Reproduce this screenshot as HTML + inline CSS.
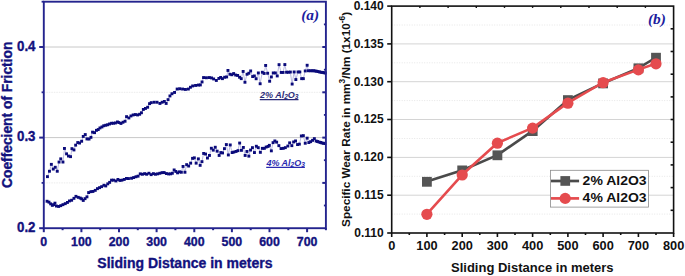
<!DOCTYPE html>
<html><head><meta charset="utf-8"><style>
html,body{margin:0;padding:0;background:#fff;}
body{width:685px;height:276px;overflow:hidden;}
svg{display:block;}
text{font-family:"Liberation Sans",sans-serif;}
</style></head><body>
<svg width="685" height="276" viewBox="0 0 685 276">
<rect width="685" height="276" fill="#fff"/>

<line x1="43.8" y1="47.0" x2="325.9" y2="47.0" stroke="#c8c8c8" stroke-width="1"/>
<line x1="43.8" y1="137.6" x2="325.9" y2="137.6" stroke="#c8c8c8" stroke-width="1"/>
<line x1="43.8" y1="92.3" x2="325.9" y2="92.3" stroke="#ebebeb" stroke-width="1" stroke-dasharray="1.5,1"/>
<line x1="43.8" y1="182.9" x2="325.9" y2="182.9" stroke="#ebebeb" stroke-width="1" stroke-dasharray="1.5,1"/>
<polyline points="47.5,176.6 49.5,171.2 51.4,164.3 53.3,169.0 55.3,167.2 57.2,171.2 59.1,162.0 60.8,158.8 63.0,162.0 64.5,148.4 66.6,153.8 68.5,156.0 70.6,156.7 72.0,148.7 73.9,149.9 75.7,145.1 77.8,142.5 79.6,143.0 81.7,141.2 83.3,136.4 85.2,134.5 87.0,138.9 89.1,139.0 90.9,137.3 92.6,132.1 94.6,132.6 96.5,130.3 98.3,129.5 100.0,128.0 101.9,126.9 103.8,125.8 105.8,125.2 107.7,124.8 109.6,124.0 111.6,123.2 113.5,123.3 115.4,122.9 117.4,122.0 119.0,122.6 120.9,123.4 123.0,122.3 125.1,121.2 126.6,116.7 128.8,117.9 130.9,116.0 133.1,115.0 135.3,114.6 137.5,115.0 139.6,114.3 141.4,112.8 143.3,109.5 145.4,108.5 147.6,107.3 149.5,103.7 151.2,102.7 154.1,102.2 157.0,102.2 159.9,103.5 162.1,102.2 164.3,101.4 166.1,103.5 168.0,99.6 169.9,96.0 171.9,93.8 174.5,92.4 177.1,89.1 179.6,88.8 182.5,89.1 185.4,89.5 188.3,89.1 190.4,87.3 192.6,85.9 195.5,85.4 198.4,85.1 200.3,84.9 202.0,82.0 203.5,77.6 206.4,77.8 209.3,77.6 211.5,78.0 213.7,79.0 216.3,80.4 218.8,78.4 220.7,77.5 222.4,78.7 224.6,77.2 226.7,76.9 227.9,70.4 229.9,74.3 231.8,74.8 233.7,73.6 235.7,75.1 237.6,75.5 239.5,77.2 241.2,78.7 243.1,71.4 244.9,82.3 247.0,74.3 248.8,73.2 250.7,70.9 252.6,76.6 254.3,75.9 256.1,78.8 258.4,73.0 260.1,83.8 262.3,72.2 264.1,73.4 265.7,65.4 267.7,73.3 269.6,81.2 271.4,76.9 273.2,73.0 275.4,73.0 277.2,75.9 279.0,64.7 281.2,72.5 283.0,72.5 284.8,64.6 286.5,72.2 288.4,72.2 290.3,72.1 292.1,84.1 294.1,71.9 295.9,79.6 298.0,71.9 299.9,71.9 301.6,78.7 303.3,78.7 305.2,71.0 307.1,65.2 308.4,70.8 310.3,70.8 312.0,70.8 313.5,70.8 315.0,71.0 316.5,71.3 318.0,71.6 319.5,71.9 321.0,72.2 322.5,72.5 324.0,72.8 325.2,73.0" fill="none" stroke="#9c9cd4" stroke-width="0.7"/>
<polyline points="47.1,201.2 49.0,202.1 50.7,203.8 52.4,205.3 53.6,204.6 55.0,203.1 56.5,206.0 58.7,206.4 60.8,205.6 63.0,204.6 65.2,203.6 67.4,202.4 69.5,200.9 71.7,200.2 73.9,198.3 76.0,196.3 78.2,197.3 80.2,198.0 81.7,198.8 83.2,200.4 85.1,198.7 87.0,196.8 88.7,192.5 90.9,191.7 93.0,191.4 95.2,190.3 97.4,188.6 99.6,187.7 101.7,186.7 103.9,185.2 105.8,185.9 107.8,183.8 109.7,182.3 111.6,180.1 113.6,180.1 115.9,180.9 118.0,179.4 119.9,180.4 122.0,180.1 124.2,179.4 126.4,178.4 128.5,178.5 131.5,178.2 133.7,177.5 135.9,176.8 138.0,176.1 140.2,173.9 142.4,174.2 144.6,173.6 146.7,174.2 148.9,173.2 151.1,174.6 153.3,173.6 155.4,174.2 157.6,173.9 159.8,173.2 162.0,172.7 164.1,172.5 166.3,173.5 168.5,173.9 170.7,173.8 172.3,173.2 174.1,169.9 175.8,171.4 177.5,172.8 179.4,171.8 181.3,172.2 183.0,166.4 184.9,172.2 186.7,164.6 188.6,166.0 190.6,163.1 192.5,158.3 194.3,157.8 196.1,163.1 198.3,158.8 200.1,165.3 201.9,161.7 203.6,153.4 205.5,154.0 207.4,158.0 209.4,155.4 211.3,148.2 213.2,150.1 215.2,147.2 217.1,151.1 219.1,155.4 220.8,152.5 222.5,152.9 224.4,148.6 226.3,144.5 228.3,154.9 230.2,144.9 232.1,152.5 233.8,152.0 236.0,151.4 237.9,150.6 239.6,143.0 241.4,150.3 243.3,147.4 245.1,155.4 246.9,151.4 248.8,156.1 250.5,150.0 252.4,147.7 254.4,152.5 256.3,146.2 258.2,147.7 260.4,152.3 262.4,148.3 264.3,148.3 266.1,147.0 268.0,146.4 269.4,145.3 271.3,150.8 273.0,142.7 274.8,140.9 276.7,142.1 278.8,145.6 281.0,148.5 283.2,148.3 285.4,147.6 287.8,146.0 289.7,142.8 291.9,145.6 293.6,141.9 295.5,140.9 297.5,144.5 299.4,144.1 301.3,135.9 303.3,135.7 305.2,143.2 307.1,138.1 308.8,142.5 310.6,141.7 312.5,140.3 314.3,138.6 316.1,141.0 317.5,141.5 319.0,142.0 320.5,142.4 321.9,142.9 323.4,143.2 324.8,143.5" fill="none" stroke="#9c9cd4" stroke-width="0.7"/>
<g fill="#0a0a7a"><rect x="46.0" y="175.2" width="2.9" height="2.9"/><rect x="48.0" y="169.8" width="2.9" height="2.9"/><rect x="49.9" y="162.9" width="2.9" height="2.9"/><rect x="51.8" y="167.6" width="2.9" height="2.9"/><rect x="53.8" y="165.8" width="2.9" height="2.9"/><rect x="55.8" y="169.8" width="2.9" height="2.9"/><rect x="57.6" y="160.6" width="2.9" height="2.9"/><rect x="59.3" y="157.4" width="2.9" height="2.9"/><rect x="61.5" y="160.6" width="2.9" height="2.9"/><rect x="63.0" y="147.0" width="2.9" height="2.9"/><rect x="65.1" y="152.4" width="2.9" height="2.9"/><rect x="67.0" y="154.6" width="2.9" height="2.9"/><rect x="69.1" y="155.2" width="2.9" height="2.9"/><rect x="70.5" y="147.2" width="2.9" height="2.9"/><rect x="72.5" y="148.5" width="2.9" height="2.9"/><rect x="74.2" y="143.7" width="2.9" height="2.9"/><rect x="76.3" y="141.1" width="2.9" height="2.9"/><rect x="78.1" y="141.6" width="2.9" height="2.9"/><rect x="80.2" y="139.8" width="2.9" height="2.9"/><rect x="81.8" y="135.0" width="2.9" height="2.9"/><rect x="83.8" y="133.1" width="2.9" height="2.9"/><rect x="85.5" y="137.5" width="2.9" height="2.9"/><rect x="87.6" y="137.6" width="2.9" height="2.9"/><rect x="89.5" y="135.9" width="2.9" height="2.9"/><rect x="91.1" y="130.7" width="2.9" height="2.9"/><rect x="93.1" y="131.2" width="2.9" height="2.9"/><rect x="95.0" y="128.9" width="2.9" height="2.9"/><rect x="96.8" y="128.1" width="2.9" height="2.9"/><rect x="98.5" y="126.5" width="2.9" height="2.9"/><rect x="100.5" y="125.5" width="2.9" height="2.9"/><rect x="102.3" y="124.3" width="2.9" height="2.9"/><rect x="104.3" y="123.8" width="2.9" height="2.9"/><rect x="106.2" y="123.3" width="2.9" height="2.9"/><rect x="108.1" y="122.5" width="2.9" height="2.9"/><rect x="110.1" y="121.8" width="2.9" height="2.9"/><rect x="112.0" y="121.8" width="2.9" height="2.9"/><rect x="114.0" y="121.5" width="2.9" height="2.9"/><rect x="116.0" y="120.5" width="2.9" height="2.9"/><rect x="117.5" y="121.1" width="2.9" height="2.9"/><rect x="119.5" y="122.0" width="2.9" height="2.9"/><rect x="121.5" y="120.8" width="2.9" height="2.9"/><rect x="123.6" y="119.8" width="2.9" height="2.9"/><rect x="125.1" y="115.2" width="2.9" height="2.9"/><rect x="127.4" y="116.5" width="2.9" height="2.9"/><rect x="129.5" y="114.5" width="2.9" height="2.9"/><rect x="131.7" y="113.5" width="2.9" height="2.9"/><rect x="133.9" y="113.1" width="2.9" height="2.9"/><rect x="136.1" y="113.5" width="2.9" height="2.9"/><rect x="138.2" y="112.8" width="2.9" height="2.9"/><rect x="140.0" y="111.3" width="2.9" height="2.9"/><rect x="141.9" y="108.0" width="2.9" height="2.9"/><rect x="144.0" y="107.0" width="2.9" height="2.9"/><rect x="146.2" y="105.8" width="2.9" height="2.9"/><rect x="148.1" y="102.2" width="2.9" height="2.9"/><rect x="149.8" y="101.2" width="2.9" height="2.9"/><rect x="152.7" y="100.8" width="2.9" height="2.9"/><rect x="155.6" y="100.8" width="2.9" height="2.9"/><rect x="158.5" y="102.0" width="2.9" height="2.9"/><rect x="160.7" y="100.8" width="2.9" height="2.9"/><rect x="162.9" y="100.0" width="2.9" height="2.9"/><rect x="164.7" y="102.0" width="2.9" height="2.9"/><rect x="166.6" y="98.2" width="2.9" height="2.9"/><rect x="168.5" y="94.5" width="2.9" height="2.9"/><rect x="170.5" y="92.3" width="2.9" height="2.9"/><rect x="173.1" y="91.0" width="2.9" height="2.9"/><rect x="175.7" y="87.6" width="2.9" height="2.9"/><rect x="178.2" y="87.3" width="2.9" height="2.9"/><rect x="181.1" y="87.6" width="2.9" height="2.9"/><rect x="184.0" y="88.0" width="2.9" height="2.9"/><rect x="186.9" y="87.6" width="2.9" height="2.9"/><rect x="189.0" y="85.8" width="2.9" height="2.9"/><rect x="191.2" y="84.5" width="2.9" height="2.9"/><rect x="194.1" y="84.0" width="2.9" height="2.9"/><rect x="197.0" y="83.6" width="2.9" height="2.9"/><rect x="198.9" y="83.5" width="2.9" height="2.9"/><rect x="200.6" y="80.5" width="2.9" height="2.9"/><rect x="202.1" y="76.1" width="2.9" height="2.9"/><rect x="205.0" y="76.3" width="2.9" height="2.9"/><rect x="207.9" y="76.1" width="2.9" height="2.9"/><rect x="210.1" y="76.5" width="2.9" height="2.9"/><rect x="212.2" y="77.5" width="2.9" height="2.9"/><rect x="214.9" y="79.0" width="2.9" height="2.9"/><rect x="217.4" y="77.0" width="2.9" height="2.9"/><rect x="219.2" y="76.0" width="2.9" height="2.9"/><rect x="221.0" y="77.2" width="2.9" height="2.9"/><rect x="223.2" y="75.8" width="2.9" height="2.9"/><rect x="225.2" y="75.5" width="2.9" height="2.9"/><rect x="226.5" y="69.0" width="2.9" height="2.9"/><rect x="228.5" y="72.8" width="2.9" height="2.9"/><rect x="230.4" y="73.3" width="2.9" height="2.9"/><rect x="232.2" y="72.1" width="2.9" height="2.9"/><rect x="234.2" y="73.6" width="2.9" height="2.9"/><rect x="236.2" y="74.0" width="2.9" height="2.9"/><rect x="238.1" y="75.8" width="2.9" height="2.9"/><rect x="239.8" y="77.2" width="2.9" height="2.9"/><rect x="241.7" y="70.0" width="2.9" height="2.9"/><rect x="243.5" y="80.8" width="2.9" height="2.9"/><rect x="245.6" y="72.8" width="2.9" height="2.9"/><rect x="247.4" y="71.8" width="2.9" height="2.9"/><rect x="249.2" y="69.5" width="2.9" height="2.9"/><rect x="251.2" y="75.1" width="2.9" height="2.9"/><rect x="252.9" y="74.5" width="2.9" height="2.9"/><rect x="254.7" y="77.3" width="2.9" height="2.9"/><rect x="256.9" y="71.5" width="2.9" height="2.9"/><rect x="258.7" y="82.3" width="2.9" height="2.9"/><rect x="260.9" y="70.8" width="2.9" height="2.9"/><rect x="262.7" y="72.0" width="2.9" height="2.9"/><rect x="264.2" y="64.0" width="2.9" height="2.9"/><rect x="266.2" y="71.8" width="2.9" height="2.9"/><rect x="268.2" y="79.8" width="2.9" height="2.9"/><rect x="269.9" y="75.5" width="2.9" height="2.9"/><rect x="271.8" y="71.5" width="2.9" height="2.9"/><rect x="273.9" y="71.5" width="2.9" height="2.9"/><rect x="275.8" y="74.5" width="2.9" height="2.9"/><rect x="277.6" y="63.2" width="2.9" height="2.9"/><rect x="279.8" y="71.0" width="2.9" height="2.9"/><rect x="281.6" y="71.0" width="2.9" height="2.9"/><rect x="283.4" y="63.1" width="2.9" height="2.9"/><rect x="285.1" y="70.8" width="2.9" height="2.9"/><rect x="286.9" y="70.8" width="2.9" height="2.9"/><rect x="288.9" y="70.6" width="2.9" height="2.9"/><rect x="290.7" y="82.6" width="2.9" height="2.9"/><rect x="292.7" y="70.5" width="2.9" height="2.9"/><rect x="294.4" y="78.1" width="2.9" height="2.9"/><rect x="296.6" y="70.5" width="2.9" height="2.9"/><rect x="298.4" y="70.5" width="2.9" height="2.9"/><rect x="300.2" y="77.2" width="2.9" height="2.9"/><rect x="301.9" y="77.2" width="2.9" height="2.9"/><rect x="303.8" y="69.5" width="2.9" height="2.9"/><rect x="305.7" y="63.8" width="2.9" height="2.9"/><rect x="306.9" y="69.3" width="2.9" height="2.9"/><rect x="308.9" y="69.3" width="2.9" height="2.9"/><rect x="310.6" y="69.3" width="2.9" height="2.9"/><rect x="312.1" y="69.3" width="2.9" height="2.9"/><rect x="313.6" y="69.5" width="2.9" height="2.9"/><rect x="315.1" y="69.8" width="2.9" height="2.9"/><rect x="316.6" y="70.1" width="2.9" height="2.9"/><rect x="318.1" y="70.5" width="2.9" height="2.9"/><rect x="319.6" y="70.8" width="2.9" height="2.9"/><rect x="321.1" y="71.0" width="2.9" height="2.9"/><rect x="322.6" y="71.3" width="2.9" height="2.9"/><rect x="323.8" y="71.5" width="2.9" height="2.9"/><rect x="45.6" y="199.8" width="2.9" height="2.9"/><rect x="47.5" y="200.7" width="2.9" height="2.9"/><rect x="49.2" y="202.4" width="2.9" height="2.9"/><rect x="50.9" y="203.9" width="2.9" height="2.9"/><rect x="52.1" y="203.2" width="2.9" height="2.9"/><rect x="53.5" y="201.7" width="2.9" height="2.9"/><rect x="55.0" y="204.6" width="2.9" height="2.9"/><rect x="57.2" y="205.0" width="2.9" height="2.9"/><rect x="59.3" y="204.2" width="2.9" height="2.9"/><rect x="61.5" y="203.2" width="2.9" height="2.9"/><rect x="63.8" y="202.2" width="2.9" height="2.9"/><rect x="66.0" y="201.0" width="2.9" height="2.9"/><rect x="68.0" y="199.5" width="2.9" height="2.9"/><rect x="70.2" y="198.8" width="2.9" height="2.9"/><rect x="72.5" y="196.9" width="2.9" height="2.9"/><rect x="74.5" y="194.9" width="2.9" height="2.9"/><rect x="76.8" y="195.9" width="2.9" height="2.9"/><rect x="78.8" y="196.6" width="2.9" height="2.9"/><rect x="80.2" y="197.4" width="2.9" height="2.9"/><rect x="81.8" y="199.0" width="2.9" height="2.9"/><rect x="83.6" y="197.2" width="2.9" height="2.9"/><rect x="85.5" y="195.4" width="2.9" height="2.9"/><rect x="87.2" y="191.1" width="2.9" height="2.9"/><rect x="89.5" y="190.2" width="2.9" height="2.9"/><rect x="91.5" y="190.0" width="2.9" height="2.9"/><rect x="93.8" y="188.9" width="2.9" height="2.9"/><rect x="96.0" y="187.2" width="2.9" height="2.9"/><rect x="98.1" y="186.2" width="2.9" height="2.9"/><rect x="100.2" y="185.2" width="2.9" height="2.9"/><rect x="102.5" y="183.8" width="2.9" height="2.9"/><rect x="104.3" y="184.5" width="2.9" height="2.9"/><rect x="106.3" y="182.4" width="2.9" height="2.9"/><rect x="108.2" y="180.9" width="2.9" height="2.9"/><rect x="110.1" y="178.7" width="2.9" height="2.9"/><rect x="112.1" y="178.7" width="2.9" height="2.9"/><rect x="114.5" y="179.5" width="2.9" height="2.9"/><rect x="116.5" y="178.0" width="2.9" height="2.9"/><rect x="118.5" y="179.0" width="2.9" height="2.9"/><rect x="120.5" y="178.7" width="2.9" height="2.9"/><rect x="122.8" y="178.0" width="2.9" height="2.9"/><rect x="125.0" y="177.0" width="2.9" height="2.9"/><rect x="127.0" y="177.1" width="2.9" height="2.9"/><rect x="130.1" y="176.8" width="2.9" height="2.9"/><rect x="132.2" y="176.1" width="2.9" height="2.9"/><rect x="134.5" y="175.3" width="2.9" height="2.9"/><rect x="136.6" y="174.7" width="2.9" height="2.9"/><rect x="138.8" y="172.4" width="2.9" height="2.9"/><rect x="141.0" y="172.8" width="2.9" height="2.9"/><rect x="143.2" y="172.2" width="2.9" height="2.9"/><rect x="145.2" y="172.8" width="2.9" height="2.9"/><rect x="147.5" y="171.8" width="2.9" height="2.9"/><rect x="149.7" y="173.2" width="2.9" height="2.9"/><rect x="151.9" y="172.2" width="2.9" height="2.9"/><rect x="154.0" y="172.8" width="2.9" height="2.9"/><rect x="156.2" y="172.4" width="2.9" height="2.9"/><rect x="158.4" y="171.8" width="2.9" height="2.9"/><rect x="160.6" y="171.2" width="2.9" height="2.9"/><rect x="162.7" y="171.1" width="2.9" height="2.9"/><rect x="164.9" y="172.1" width="2.9" height="2.9"/><rect x="167.1" y="172.5" width="2.9" height="2.9"/><rect x="169.2" y="172.4" width="2.9" height="2.9"/><rect x="170.9" y="171.8" width="2.9" height="2.9"/><rect x="172.7" y="168.5" width="2.9" height="2.9"/><rect x="174.4" y="170.0" width="2.9" height="2.9"/><rect x="176.1" y="171.4" width="2.9" height="2.9"/><rect x="178.0" y="170.4" width="2.9" height="2.9"/><rect x="179.9" y="170.8" width="2.9" height="2.9"/><rect x="181.6" y="165.0" width="2.9" height="2.9"/><rect x="183.5" y="170.8" width="2.9" height="2.9"/><rect x="185.2" y="163.2" width="2.9" height="2.9"/><rect x="187.2" y="164.6" width="2.9" height="2.9"/><rect x="189.2" y="161.7" width="2.9" height="2.9"/><rect x="191.1" y="156.9" width="2.9" height="2.9"/><rect x="192.9" y="156.4" width="2.9" height="2.9"/><rect x="194.7" y="161.7" width="2.9" height="2.9"/><rect x="196.9" y="157.4" width="2.9" height="2.9"/><rect x="198.7" y="163.9" width="2.9" height="2.9"/><rect x="200.5" y="160.2" width="2.9" height="2.9"/><rect x="202.2" y="152.0" width="2.9" height="2.9"/><rect x="204.1" y="152.6" width="2.9" height="2.9"/><rect x="206.0" y="156.6" width="2.9" height="2.9"/><rect x="208.0" y="154.0" width="2.9" height="2.9"/><rect x="209.9" y="146.8" width="2.9" height="2.9"/><rect x="211.8" y="148.7" width="2.9" height="2.9"/><rect x="213.8" y="145.8" width="2.9" height="2.9"/><rect x="215.7" y="149.7" width="2.9" height="2.9"/><rect x="217.7" y="154.0" width="2.9" height="2.9"/><rect x="219.4" y="151.1" width="2.9" height="2.9"/><rect x="221.1" y="151.5" width="2.9" height="2.9"/><rect x="223.0" y="147.2" width="2.9" height="2.9"/><rect x="224.9" y="143.1" width="2.9" height="2.9"/><rect x="226.9" y="153.5" width="2.9" height="2.9"/><rect x="228.8" y="143.5" width="2.9" height="2.9"/><rect x="230.7" y="151.1" width="2.9" height="2.9"/><rect x="232.4" y="150.6" width="2.9" height="2.9"/><rect x="234.6" y="150.0" width="2.9" height="2.9"/><rect x="236.5" y="149.2" width="2.9" height="2.9"/><rect x="238.2" y="141.6" width="2.9" height="2.9"/><rect x="240.0" y="148.9" width="2.9" height="2.9"/><rect x="241.9" y="146.0" width="2.9" height="2.9"/><rect x="243.7" y="154.0" width="2.9" height="2.9"/><rect x="245.5" y="150.0" width="2.9" height="2.9"/><rect x="247.4" y="154.7" width="2.9" height="2.9"/><rect x="249.1" y="148.6" width="2.9" height="2.9"/><rect x="251.0" y="146.2" width="2.9" height="2.9"/><rect x="253.0" y="151.1" width="2.9" height="2.9"/><rect x="254.9" y="144.8" width="2.9" height="2.9"/><rect x="256.8" y="146.2" width="2.9" height="2.9"/><rect x="258.9" y="150.9" width="2.9" height="2.9"/><rect x="260.9" y="146.9" width="2.9" height="2.9"/><rect x="262.9" y="146.9" width="2.9" height="2.9"/><rect x="264.7" y="145.6" width="2.9" height="2.9"/><rect x="266.6" y="145.0" width="2.9" height="2.9"/><rect x="267.9" y="143.9" width="2.9" height="2.9"/><rect x="269.9" y="149.4" width="2.9" height="2.9"/><rect x="271.6" y="141.2" width="2.9" height="2.9"/><rect x="273.4" y="139.5" width="2.9" height="2.9"/><rect x="275.2" y="140.7" width="2.9" height="2.9"/><rect x="277.4" y="144.2" width="2.9" height="2.9"/><rect x="279.6" y="147.1" width="2.9" height="2.9"/><rect x="281.8" y="146.9" width="2.9" height="2.9"/><rect x="283.9" y="146.2" width="2.9" height="2.9"/><rect x="286.4" y="144.6" width="2.9" height="2.9"/><rect x="288.2" y="141.4" width="2.9" height="2.9"/><rect x="290.4" y="144.2" width="2.9" height="2.9"/><rect x="292.2" y="140.5" width="2.9" height="2.9"/><rect x="294.1" y="139.5" width="2.9" height="2.9"/><rect x="296.1" y="143.1" width="2.9" height="2.9"/><rect x="297.9" y="142.7" width="2.9" height="2.9"/><rect x="299.9" y="134.5" width="2.9" height="2.9"/><rect x="301.9" y="134.2" width="2.9" height="2.9"/><rect x="303.8" y="141.8" width="2.9" height="2.9"/><rect x="305.7" y="136.7" width="2.9" height="2.9"/><rect x="307.4" y="141.1" width="2.9" height="2.9"/><rect x="309.2" y="140.2" width="2.9" height="2.9"/><rect x="311.1" y="138.9" width="2.9" height="2.9"/><rect x="312.9" y="137.2" width="2.9" height="2.9"/><rect x="314.7" y="139.6" width="2.9" height="2.9"/><rect x="316.1" y="140.1" width="2.9" height="2.9"/><rect x="317.6" y="140.6" width="2.9" height="2.9"/><rect x="319.1" y="141.0" width="2.9" height="2.9"/><rect x="320.4" y="141.5" width="2.9" height="2.9"/><rect x="321.9" y="141.8" width="2.9" height="2.9"/><rect x="323.4" y="142.1" width="2.9" height="2.9"/></g>
<rect x="43.8" y="1.7" width="282.1" height="226.5" fill="none" stroke="#24248e" stroke-width="1.9"/>
<line x1="39.2" y1="228.2" x2="43.8" y2="228.2" stroke="#24248e" stroke-width="2"/>
<line x1="39.2" y1="137.6" x2="43.8" y2="137.6" stroke="#24248e" stroke-width="2"/>
<line x1="39.2" y1="47.0" x2="43.8" y2="47.0" stroke="#24248e" stroke-width="2"/>
<line x1="41.6" y1="182.9" x2="43.8" y2="182.9" stroke="#24248e" stroke-width="1.8"/>
<line x1="41.6" y1="92.3" x2="43.8" y2="92.3" stroke="#24248e" stroke-width="1.8"/>
<line x1="41.6" y1="1.7" x2="43.8" y2="1.7" stroke="#24248e" stroke-width="1.8"/>
<line x1="322.3" y1="182.9" x2="325.9" y2="182.9" stroke="#24248e" stroke-width="2"/>
<line x1="322.3" y1="137.6" x2="325.9" y2="137.6" stroke="#24248e" stroke-width="2"/>
<line x1="322.3" y1="92.3" x2="325.9" y2="92.3" stroke="#24248e" stroke-width="2"/>
<line x1="322.3" y1="47.0" x2="325.9" y2="47.0" stroke="#24248e" stroke-width="2"/>
<line x1="323.9" y1="24.4" x2="325.9" y2="24.4" stroke="#24248e" stroke-width="1.8"/>
<line x1="323.9" y1="69.7" x2="325.9" y2="69.7" stroke="#24248e" stroke-width="1.8"/>
<line x1="323.9" y1="114.9" x2="325.9" y2="114.9" stroke="#24248e" stroke-width="1.8"/>
<line x1="323.9" y1="160.2" x2="325.9" y2="160.2" stroke="#24248e" stroke-width="1.8"/>
<line x1="323.9" y1="205.5" x2="325.9" y2="205.5" stroke="#24248e" stroke-width="1.8"/>
<line x1="43.8" y1="228.2" x2="43.8" y2="232.2" stroke="#24248e" stroke-width="2"/>
<line x1="62.6" y1="228.2" x2="62.6" y2="230.2" stroke="#24248e" stroke-width="2"/>
<line x1="81.4" y1="228.2" x2="81.4" y2="232.2" stroke="#24248e" stroke-width="2"/>
<line x1="100.2" y1="228.2" x2="100.2" y2="230.2" stroke="#24248e" stroke-width="2"/>
<line x1="119.0" y1="228.2" x2="119.0" y2="232.2" stroke="#24248e" stroke-width="2"/>
<line x1="137.8" y1="228.2" x2="137.8" y2="230.2" stroke="#24248e" stroke-width="2"/>
<line x1="156.6" y1="228.2" x2="156.6" y2="232.2" stroke="#24248e" stroke-width="2"/>
<line x1="175.4" y1="228.2" x2="175.4" y2="230.2" stroke="#24248e" stroke-width="2"/>
<line x1="194.3" y1="228.2" x2="194.3" y2="232.2" stroke="#24248e" stroke-width="2"/>
<line x1="213.1" y1="228.2" x2="213.1" y2="230.2" stroke="#24248e" stroke-width="2"/>
<line x1="231.9" y1="228.2" x2="231.9" y2="232.2" stroke="#24248e" stroke-width="2"/>
<line x1="250.7" y1="228.2" x2="250.7" y2="230.2" stroke="#24248e" stroke-width="2"/>
<line x1="269.5" y1="228.2" x2="269.5" y2="232.2" stroke="#24248e" stroke-width="2"/>
<line x1="288.3" y1="228.2" x2="288.3" y2="230.2" stroke="#24248e" stroke-width="2"/>
<line x1="307.1" y1="228.2" x2="307.1" y2="232.2" stroke="#24248e" stroke-width="2"/>
<line x1="325.9" y1="228.2" x2="325.9" y2="230.2" stroke="#24248e" stroke-width="2"/>
<text transform="translate(43.80,245.80) scale(1.000,1.080)" font-size="12.4" font-weight="bold" font-style="normal" fill="#12127e" text-anchor="middle" style="font-family:'Liberation Sans',sans-serif" stroke="#12127e" stroke-width="0.35" stroke-linejoin="round">0</text>
<text transform="translate(81.41,245.80) scale(1.000,1.080)" font-size="12.4" font-weight="bold" font-style="normal" fill="#12127e" text-anchor="middle" style="font-family:'Liberation Sans',sans-serif" stroke="#12127e" stroke-width="0.35" stroke-linejoin="round">100</text>
<text transform="translate(119.03,245.80) scale(1.000,1.080)" font-size="12.4" font-weight="bold" font-style="normal" fill="#12127e" text-anchor="middle" style="font-family:'Liberation Sans',sans-serif" stroke="#12127e" stroke-width="0.35" stroke-linejoin="round">200</text>
<text transform="translate(156.64,245.80) scale(1.000,1.080)" font-size="12.4" font-weight="bold" font-style="normal" fill="#12127e" text-anchor="middle" style="font-family:'Liberation Sans',sans-serif" stroke="#12127e" stroke-width="0.35" stroke-linejoin="round">300</text>
<text transform="translate(194.25,245.80) scale(1.000,1.080)" font-size="12.4" font-weight="bold" font-style="normal" fill="#12127e" text-anchor="middle" style="font-family:'Liberation Sans',sans-serif" stroke="#12127e" stroke-width="0.35" stroke-linejoin="round">400</text>
<text transform="translate(231.87,245.80) scale(1.000,1.080)" font-size="12.4" font-weight="bold" font-style="normal" fill="#12127e" text-anchor="middle" style="font-family:'Liberation Sans',sans-serif" stroke="#12127e" stroke-width="0.35" stroke-linejoin="round">500</text>
<text transform="translate(269.48,245.80) scale(1.000,1.080)" font-size="12.4" font-weight="bold" font-style="normal" fill="#12127e" text-anchor="middle" style="font-family:'Liberation Sans',sans-serif" stroke="#12127e" stroke-width="0.35" stroke-linejoin="round">600</text>
<text transform="translate(307.09,245.80) scale(1.000,1.080)" font-size="12.4" font-weight="bold" font-style="normal" fill="#12127e" text-anchor="middle" style="font-family:'Liberation Sans',sans-serif" stroke="#12127e" stroke-width="0.35" stroke-linejoin="round">700</text>
<text transform="translate(35.50,50.80) scale(1.000,1.040)" font-size="13.3" font-weight="bold" font-style="normal" fill="#12127e" text-anchor="end" style="font-family:'Liberation Sans',sans-serif" stroke="#12127e" stroke-width="0.35" stroke-linejoin="round">0.4</text>
<text transform="translate(35.50,141.40) scale(1.000,1.040)" font-size="13.3" font-weight="bold" font-style="normal" fill="#12127e" text-anchor="end" style="font-family:'Liberation Sans',sans-serif" stroke="#12127e" stroke-width="0.35" stroke-linejoin="round">0.3</text>
<text transform="translate(35.50,232.00) scale(1.000,1.040)" font-size="13.3" font-weight="bold" font-style="normal" fill="#12127e" text-anchor="end" style="font-family:'Liberation Sans',sans-serif" stroke="#12127e" stroke-width="0.35" stroke-linejoin="round">0.2</text>
<text transform="translate(184.90,268.20)" font-size="14.0" font-weight="bold" font-style="normal" fill="#12127e" text-anchor="middle" style="font-family:'Liberation Sans',sans-serif" stroke="#12127e" stroke-width="0.35" stroke-linejoin="round">Sliding Distance in meters</text>
<text transform="translate(11.60,114.80) rotate(-90)" font-size="13.8" font-weight="bold" font-style="normal" fill="#12127e" text-anchor="middle" style="font-family:'Liberation Sans',sans-serif" stroke="#12127e" stroke-width="0.35" stroke-linejoin="round">Coeffecient of Friction</text>
<text transform="translate(319.10,20.30)" font-size="15.4" font-weight="bold" font-style="italic" fill="#1c1c9e" text-anchor="end" style="font-family:'Liberation Serif',serif">(a)</text>
<text transform="translate(260.00,97.70) scale(1.000,1.070)" font-size="9.0" font-weight="bold" font-style="italic" fill="#2b2b78" text-anchor="start" style="font-family:'Liberation Sans',sans-serif">2% Al<tspan font-size="6.6" dy="1.5">2</tspan><tspan dy="-1.5">O</tspan><tspan font-size="6.6" dy="1.5">3</tspan></text>
<line x1="259.8" y1="99.6" x2="298.5" y2="99.6" stroke="#2b2b78" stroke-width="1.1"/>
<text transform="translate(266.40,165.60) scale(1.000,1.100)" font-size="9.0" font-weight="bold" font-style="italic" fill="#2a2ab0" text-anchor="start" style="font-family:'Liberation Sans',sans-serif">4% Al<tspan font-size="6.6" dy="1.5">2</tspan><tspan dy="-1.5">O</tspan><tspan font-size="6.6" dy="1.5">3</tspan></text>
<line x1="266.2" y1="167.4" x2="304.9" y2="167.4" stroke="#2a2ab0" stroke-width="1.1"/>
<line x1="391.7" y1="214.1" x2="673.6" y2="214.1" stroke="#e6e6e6" stroke-width="1" stroke-dasharray="1,1.5"/>
<line x1="391.7" y1="195.2" x2="673.6" y2="195.2" stroke="#d4d4d4" stroke-width="1"/>
<line x1="391.7" y1="176.3" x2="673.6" y2="176.3" stroke="#e6e6e6" stroke-width="1" stroke-dasharray="1,1.5"/>
<line x1="391.7" y1="157.4" x2="673.6" y2="157.4" stroke="#d4d4d4" stroke-width="1"/>
<line x1="391.7" y1="138.5" x2="673.6" y2="138.5" stroke="#e6e6e6" stroke-width="1" stroke-dasharray="1,1.5"/>
<line x1="391.7" y1="119.5" x2="673.6" y2="119.5" stroke="#d4d4d4" stroke-width="1"/>
<line x1="391.7" y1="100.6" x2="673.6" y2="100.6" stroke="#e6e6e6" stroke-width="1" stroke-dasharray="1,1.5"/>
<line x1="391.7" y1="81.7" x2="673.6" y2="81.7" stroke="#d4d4d4" stroke-width="1"/>
<line x1="391.7" y1="62.8" x2="673.6" y2="62.8" stroke="#e6e6e6" stroke-width="1" stroke-dasharray="1,1.5"/>
<line x1="391.7" y1="43.9" x2="673.6" y2="43.9" stroke="#d4d4d4" stroke-width="1"/>
<line x1="391.7" y1="25.0" x2="673.6" y2="25.0" stroke="#e6e6e6" stroke-width="1" stroke-dasharray="1,1.5"/>
<rect x="391.7" y="6.1" width="281.9" height="226.9" fill="none" stroke="#111" stroke-width="1.6"/>
<line x1="387.2" y1="233.0" x2="391.7" y2="233.0" stroke="#111" stroke-width="1.6"/>
<text transform="translate(383.70,236.80) scale(1.000,1.130)" font-size="12.0" font-weight="bold" font-style="normal" fill="#111" text-anchor="end" style="font-family:'Liberation Sans',sans-serif">0.110</text>
<line x1="387.2" y1="195.2" x2="391.7" y2="195.2" stroke="#111" stroke-width="1.6"/>
<text transform="translate(383.70,198.98) scale(1.000,1.130)" font-size="12.0" font-weight="bold" font-style="normal" fill="#111" text-anchor="end" style="font-family:'Liberation Sans',sans-serif">0.115</text>
<line x1="387.2" y1="157.4" x2="391.7" y2="157.4" stroke="#111" stroke-width="1.6"/>
<text transform="translate(383.70,161.17) scale(1.000,1.130)" font-size="12.0" font-weight="bold" font-style="normal" fill="#111" text-anchor="end" style="font-family:'Liberation Sans',sans-serif">0.120</text>
<line x1="387.2" y1="119.5" x2="391.7" y2="119.5" stroke="#111" stroke-width="1.6"/>
<text transform="translate(383.70,123.35) scale(1.000,1.130)" font-size="12.0" font-weight="bold" font-style="normal" fill="#111" text-anchor="end" style="font-family:'Liberation Sans',sans-serif">0.125</text>
<line x1="387.2" y1="81.7" x2="391.7" y2="81.7" stroke="#111" stroke-width="1.6"/>
<text transform="translate(383.70,85.53) scale(1.000,1.130)" font-size="12.0" font-weight="bold" font-style="normal" fill="#111" text-anchor="end" style="font-family:'Liberation Sans',sans-serif">0.130</text>
<line x1="387.2" y1="43.9" x2="391.7" y2="43.9" stroke="#111" stroke-width="1.6"/>
<text transform="translate(383.70,47.72) scale(1.000,1.130)" font-size="12.0" font-weight="bold" font-style="normal" fill="#111" text-anchor="end" style="font-family:'Liberation Sans',sans-serif">0.135</text>
<line x1="387.2" y1="6.1" x2="391.7" y2="6.1" stroke="#111" stroke-width="1.6"/>
<text transform="translate(383.70,9.90) scale(1.000,1.130)" font-size="12.0" font-weight="bold" font-style="normal" fill="#111" text-anchor="end" style="font-family:'Liberation Sans',sans-serif">0.140</text>
<line x1="670.6" y1="28.8" x2="673.6" y2="28.8" stroke="#111" stroke-width="1.6"/>
<line x1="670.6" y1="51.5" x2="673.6" y2="51.5" stroke="#111" stroke-width="1.6"/>
<line x1="670.6" y1="74.2" x2="673.6" y2="74.2" stroke="#111" stroke-width="1.6"/>
<line x1="670.6" y1="96.9" x2="673.6" y2="96.9" stroke="#111" stroke-width="1.6"/>
<line x1="670.6" y1="119.5" x2="673.6" y2="119.5" stroke="#111" stroke-width="1.6"/>
<line x1="670.6" y1="142.2" x2="673.6" y2="142.2" stroke="#111" stroke-width="1.6"/>
<line x1="670.6" y1="164.9" x2="673.6" y2="164.9" stroke="#111" stroke-width="1.6"/>
<line x1="670.6" y1="187.6" x2="673.6" y2="187.6" stroke="#111" stroke-width="1.6"/>
<line x1="670.6" y1="210.3" x2="673.6" y2="210.3" stroke="#111" stroke-width="1.6"/>
<line x1="419.9" y1="6.1" x2="419.9" y2="7.9" stroke="#111" stroke-width="1.4"/>
<line x1="448.1" y1="6.1" x2="448.1" y2="7.9" stroke="#111" stroke-width="1.4"/>
<line x1="476.3" y1="6.1" x2="476.3" y2="7.9" stroke="#111" stroke-width="1.4"/>
<line x1="504.5" y1="6.1" x2="504.5" y2="7.9" stroke="#111" stroke-width="1.4"/>
<line x1="532.6" y1="6.1" x2="532.6" y2="7.9" stroke="#111" stroke-width="1.4"/>
<line x1="560.8" y1="6.1" x2="560.8" y2="7.9" stroke="#111" stroke-width="1.4"/>
<line x1="589.0" y1="6.1" x2="589.0" y2="7.9" stroke="#111" stroke-width="1.4"/>
<line x1="617.2" y1="6.1" x2="617.2" y2="7.9" stroke="#111" stroke-width="1.4"/>
<line x1="645.4" y1="6.1" x2="645.4" y2="7.9" stroke="#111" stroke-width="1.4"/>
<line x1="391.7" y1="233.0" x2="391.7" y2="237.0" stroke="#111" stroke-width="1.6"/>
<line x1="409.3" y1="233.0" x2="409.3" y2="235.0" stroke="#111" stroke-width="1.6"/>
<line x1="426.9" y1="233.0" x2="426.9" y2="237.0" stroke="#111" stroke-width="1.6"/>
<line x1="444.6" y1="233.0" x2="444.6" y2="235.0" stroke="#111" stroke-width="1.6"/>
<line x1="462.2" y1="233.0" x2="462.2" y2="237.0" stroke="#111" stroke-width="1.6"/>
<line x1="479.8" y1="233.0" x2="479.8" y2="235.0" stroke="#111" stroke-width="1.6"/>
<line x1="497.4" y1="233.0" x2="497.4" y2="237.0" stroke="#111" stroke-width="1.6"/>
<line x1="515.0" y1="233.0" x2="515.0" y2="235.0" stroke="#111" stroke-width="1.6"/>
<line x1="532.6" y1="233.0" x2="532.6" y2="237.0" stroke="#111" stroke-width="1.6"/>
<line x1="550.3" y1="233.0" x2="550.3" y2="235.0" stroke="#111" stroke-width="1.6"/>
<line x1="567.9" y1="233.0" x2="567.9" y2="237.0" stroke="#111" stroke-width="1.6"/>
<line x1="585.5" y1="233.0" x2="585.5" y2="235.0" stroke="#111" stroke-width="1.6"/>
<line x1="603.1" y1="233.0" x2="603.1" y2="237.0" stroke="#111" stroke-width="1.6"/>
<line x1="620.7" y1="233.0" x2="620.7" y2="235.0" stroke="#111" stroke-width="1.6"/>
<line x1="638.4" y1="233.0" x2="638.4" y2="237.0" stroke="#111" stroke-width="1.6"/>
<line x1="656.0" y1="233.0" x2="656.0" y2="235.0" stroke="#111" stroke-width="1.6"/>
<line x1="673.6" y1="233.0" x2="673.6" y2="237.0" stroke="#111" stroke-width="1.6"/>
<text transform="translate(391.70,250.40) scale(1.000,1.060)" font-size="12.8" font-weight="bold" font-style="normal" fill="#111" text-anchor="middle" style="font-family:'Liberation Sans',sans-serif">0</text>
<text transform="translate(426.94,250.40) scale(1.000,1.060)" font-size="12.8" font-weight="bold" font-style="normal" fill="#111" text-anchor="middle" style="font-family:'Liberation Sans',sans-serif">100</text>
<text transform="translate(462.18,250.40) scale(1.000,1.060)" font-size="12.8" font-weight="bold" font-style="normal" fill="#111" text-anchor="middle" style="font-family:'Liberation Sans',sans-serif">200</text>
<text transform="translate(497.41,250.40) scale(1.000,1.060)" font-size="12.8" font-weight="bold" font-style="normal" fill="#111" text-anchor="middle" style="font-family:'Liberation Sans',sans-serif">300</text>
<text transform="translate(532.65,250.40) scale(1.000,1.060)" font-size="12.8" font-weight="bold" font-style="normal" fill="#111" text-anchor="middle" style="font-family:'Liberation Sans',sans-serif">400</text>
<text transform="translate(567.89,250.40) scale(1.000,1.060)" font-size="12.8" font-weight="bold" font-style="normal" fill="#111" text-anchor="middle" style="font-family:'Liberation Sans',sans-serif">500</text>
<text transform="translate(603.12,250.40) scale(1.000,1.060)" font-size="12.8" font-weight="bold" font-style="normal" fill="#111" text-anchor="middle" style="font-family:'Liberation Sans',sans-serif">600</text>
<text transform="translate(638.36,250.40) scale(1.000,1.060)" font-size="12.8" font-weight="bold" font-style="normal" fill="#111" text-anchor="middle" style="font-family:'Liberation Sans',sans-serif">700</text>
<text transform="translate(673.60,250.40) scale(1.000,1.060)" font-size="12.8" font-weight="bold" font-style="normal" fill="#111" text-anchor="middle" style="font-family:'Liberation Sans',sans-serif">800</text>
<polyline points="426.9,181.6 462.2,170.2 497.4,155.1 532.6,130.9 567.9,99.9 603.1,83.2 638.4,68.1 656.0,57.5" fill="none" stroke="#4a4a4a" stroke-width="2.6" stroke-linejoin="round"/>
<rect x="422.0" y="176.9" width="9.8" height="9.8" fill="#555555"/><rect x="457.3" y="165.5" width="9.8" height="9.8" fill="#555555"/><rect x="492.5" y="150.4" width="9.8" height="9.8" fill="#555555"/><rect x="527.8" y="126.2" width="9.8" height="9.8" fill="#555555"/><rect x="563.0" y="95.2" width="9.8" height="9.8" fill="#555555"/><rect x="598.2" y="78.5" width="9.8" height="9.8" fill="#555555"/><rect x="633.5" y="63.4" width="9.8" height="9.8" fill="#555555"/><rect x="651.1" y="52.8" width="9.8" height="9.8" fill="#555555"/>
<polyline points="426.9,214.1 462.2,174.8 497.4,143.0 532.6,127.9 567.9,102.9 603.1,82.5 638.4,69.6 656.0,63.6" fill="none" stroke="#e54b4e" stroke-width="2.6" stroke-linejoin="round"/>
<circle cx="426.9" cy="214.3" r="5.6" fill="#e54b4e"/><circle cx="462.2" cy="175.0" r="5.6" fill="#e54b4e"/><circle cx="497.4" cy="143.2" r="5.6" fill="#e54b4e"/><circle cx="532.6" cy="128.1" r="5.6" fill="#e54b4e"/><circle cx="567.9" cy="103.2" r="5.6" fill="#e54b4e"/><circle cx="603.1" cy="82.7" r="5.6" fill="#e54b4e"/><circle cx="638.4" cy="69.9" r="5.6" fill="#e54b4e"/><circle cx="656.0" cy="63.8" r="5.6" fill="#e54b4e"/>
<rect x="550.5" y="170.3" width="98" height="36.8" fill="#fff" stroke="#8c8c8c" stroke-width="0.8"/>
<line x1="551" y1="181.0" x2="579.1" y2="181.0" stroke="#4a4a4a" stroke-width="2.7"/>
<rect x="560.4" y="176.1" width="9.7" height="9.7" fill="#555555"/>
<line x1="551" y1="198.4" x2="579.1" y2="198.4" stroke="#e54b4e" stroke-width="2.7"/>
<circle cx="565.2" cy="198.4" r="5.6" fill="#e54b4e"/>
<text transform="translate(582.60,184.80) scale(1.000,0.920)" font-size="14.0" font-weight="bold" font-style="normal" fill="#111" text-anchor="start" style="font-family:'Liberation Sans',sans-serif">2% Al2O3</text>
<text transform="translate(582.60,202.10) scale(1.000,0.920)" font-size="14.0" font-weight="bold" font-style="normal" fill="#111" text-anchor="start" style="font-family:'Liberation Sans',sans-serif">4% Al2O3</text>
<text transform="translate(532.30,272.00)" font-size="13.0" font-weight="bold" font-style="normal" fill="#111" text-anchor="middle" style="font-family:'Liberation Sans',sans-serif">Sliding Distance in meters</text>
<text transform="translate(349.60,119.40) rotate(-90)" font-size="11.75" font-weight="bold" font-style="normal" fill="#111" text-anchor="middle" style="font-family:'Liberation Sans',sans-serif">Specific Wear Rate in mm<tspan font-size="8.4" dy="-4.7">3</tspan><tspan dy="4.7">/Nm (1x10</tspan><tspan font-size="8.4" dy="-4.7">-6</tspan><tspan dy="4.7">)</tspan></text>
<text transform="translate(665.90,24.00)" font-size="15.4" font-weight="bold" font-style="italic" fill="#1c1c9e" text-anchor="end" style="font-family:'Liberation Serif',serif">(b)</text>
</svg>
</body></html>
